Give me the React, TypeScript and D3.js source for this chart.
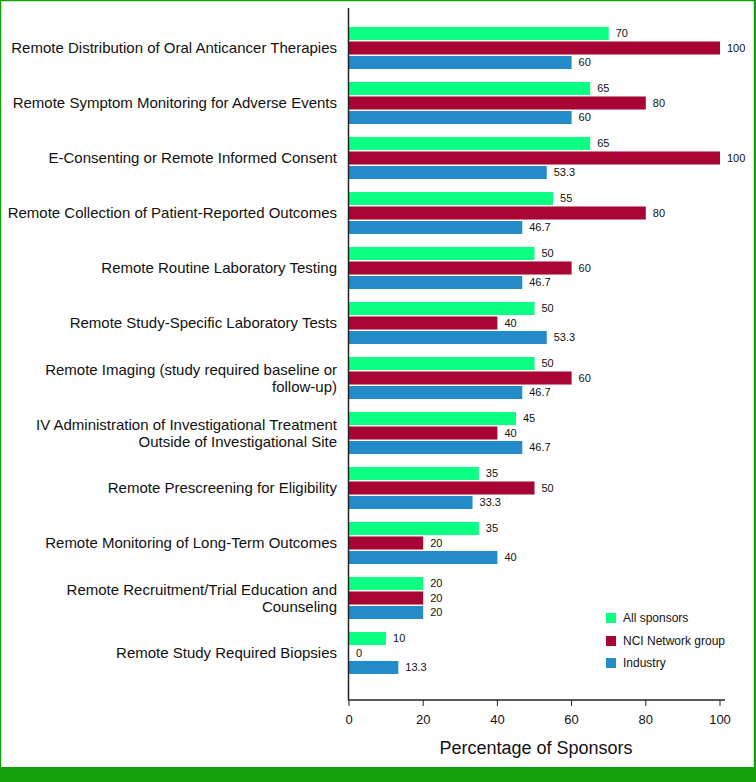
import React from "react";
import * as d3 from "d3";

const categories = [
  "Remote Distribution of Oral Anticancer Therapies",
  "Remote Symptom Monitoring for Adverse Events",
  "E-Consenting or Remote Informed Consent",
  "Remote Collection of Patient-Reported Outcomes",
  "Remote Routine Laboratory Testing",
  "Remote Study-Specific Laboratory Tests",
  "Remote Imaging (study required baseline or\nfollow-up)",
  "IV Administration of Investigational Treatment\nOutside of Investigational Site",
  "Remote Prescreening for Eligibility",
  "Remote Monitoring of Long-Term Outcomes",
  "Remote Recruitment/Trial Education and\nCounseling",
  "Remote Study Required Biopsies",
];

const seriesNames = ["All sponsors", "NCI Network group", "Industry"];
const allSponsors = [70, 65, 65, 55, 50, 50, 50, 45, 35, 35, 20, 10];
const nciNetwork = [100, 80, 100, 80, 60, 40, 60, 40, 50, 20, 20, 0];
const industry = [60, 60, 53.3, 46.7, 46.7, 53.3, 46.7, 46.7, 33.3, 40, 20, 13.3];
const xTicks = [0, 20, 40, 60, 80, 100];
const seriesColors = ["#0BFF82", "#A80535", "#238BC7"];

const W = 756;
const H = 782;
const FONT = "'Liberation Sans', Arial, Helvetica, sans-serif";

export default function App() {
  const seriesValues = [allSponsors, nciNetwork, industry];
  const x = d3.scaleLinear().domain([0, 100]).range([349, 720]);
  const y = d3
    .scaleBand<string>()
    .domain(categories)
    .range([20.5, 680.5])
    .paddingInner(0.236)
    .paddingOuter(0.118);
  const ys = d3
    .scaleBand<string>()
    .domain(seriesNames)
    .range([0, y.bandwidth()])
    .paddingInner(0.1)
    .paddingOuter(0);

  const axisY = 700;
  const fmt = (v: number) => (Number.isInteger(v) ? String(v) : v.toFixed(1));

  return (
    <svg
      width={W}
      height={H}
      style={{ position: "absolute", left: 0, top: 0, background: "#fff" }}
      fontFamily={FONT}
    >
      <rect x={0} y={0} width={W} height={H} fill="#fff" />
      {/* border */}
      <rect x={0.5} y={0.5} width={W - 2} height={H - 1} fill="none" stroke="#14A10C" strokeWidth={1.5} />
      <line x1={755} x2={755} y1={0} y2={H} stroke="#14A10C" strokeWidth={2} />
      <rect x={0} y={767} width={W} height={H - 767} fill="#14A10C" />

      {/* bars */}
      {categories.map((c, i) => (
        <g key={c} transform={`translate(0,${y(c)})`}>
          {seriesNames.map((s, j) => {
            const v = seriesValues[j][i];
            const by = ys(s) as number;
            return (
              <g key={s}>
                <rect
                  x={x(0)}
                  y={by}
                  width={x(v) - x(0)}
                  height={ys.bandwidth()}
                  fill={seriesColors[j]}
                />
                <text
                  x={x(v) + 7}
                  y={by + ys.bandwidth() / 2}
                  dy="0.35em"
                  fontSize={11}
                  fill="#111"
                >
                  {fmt(v)}
                </text>
              </g>
            );
          })}
          {(() => {
            const lines = c.split("\n");
            const cy = y.bandwidth() / 2;
            const lh = 17;
            const start = cy - ((lines.length - 1) * lh) / 2;
            return lines.map((ln, k) => (
              <text
                key={k}
                x={337}
                y={start + k * lh}
                dy="0.35em"
                textAnchor="end"
                fontSize={15}
                fill="#111"
              >
                {ln}
              </text>
            ));
          })()}
        </g>
      ))}

      {/* axes */}
      <line x1={348.5} x2={348.5} y1={8} y2={axisY} stroke="#222" strokeWidth={1.5} />
      <line x1={348} x2={725} y1={axisY} y2={axisY} stroke="#222" strokeWidth={1.5} />
      {xTicks.map((t) => (
        <g key={t} transform={`translate(${x(t)},${axisY})`}>
          <line y1={0} y2={6} stroke="#222" strokeWidth={1} />
          <text y={19} dy="0.35em" textAnchor="middle" fontSize={13} fill="#111">
            {t}
          </text>
        </g>
      ))}
      <text x={536} y={748} dy="0.35em" textAnchor="middle" fontSize={18} fill="#111">
        Percentage of Sponsors
      </text>

      {/* legend */}
      {seriesNames.map((s, j) => {
        const ly = [618, 641, 663][j];
        return (
          <g key={s} transform={`translate(606,${ly})`}>
            <rect x={0} y={-5} width={10} height={10} fill={seriesColors[j]} />
            <text x={17} y={0} dy="0.35em" fontSize={12} fill="#111">
              {s}
            </text>
          </g>
        );
      })}
    </svg>
  );
}
